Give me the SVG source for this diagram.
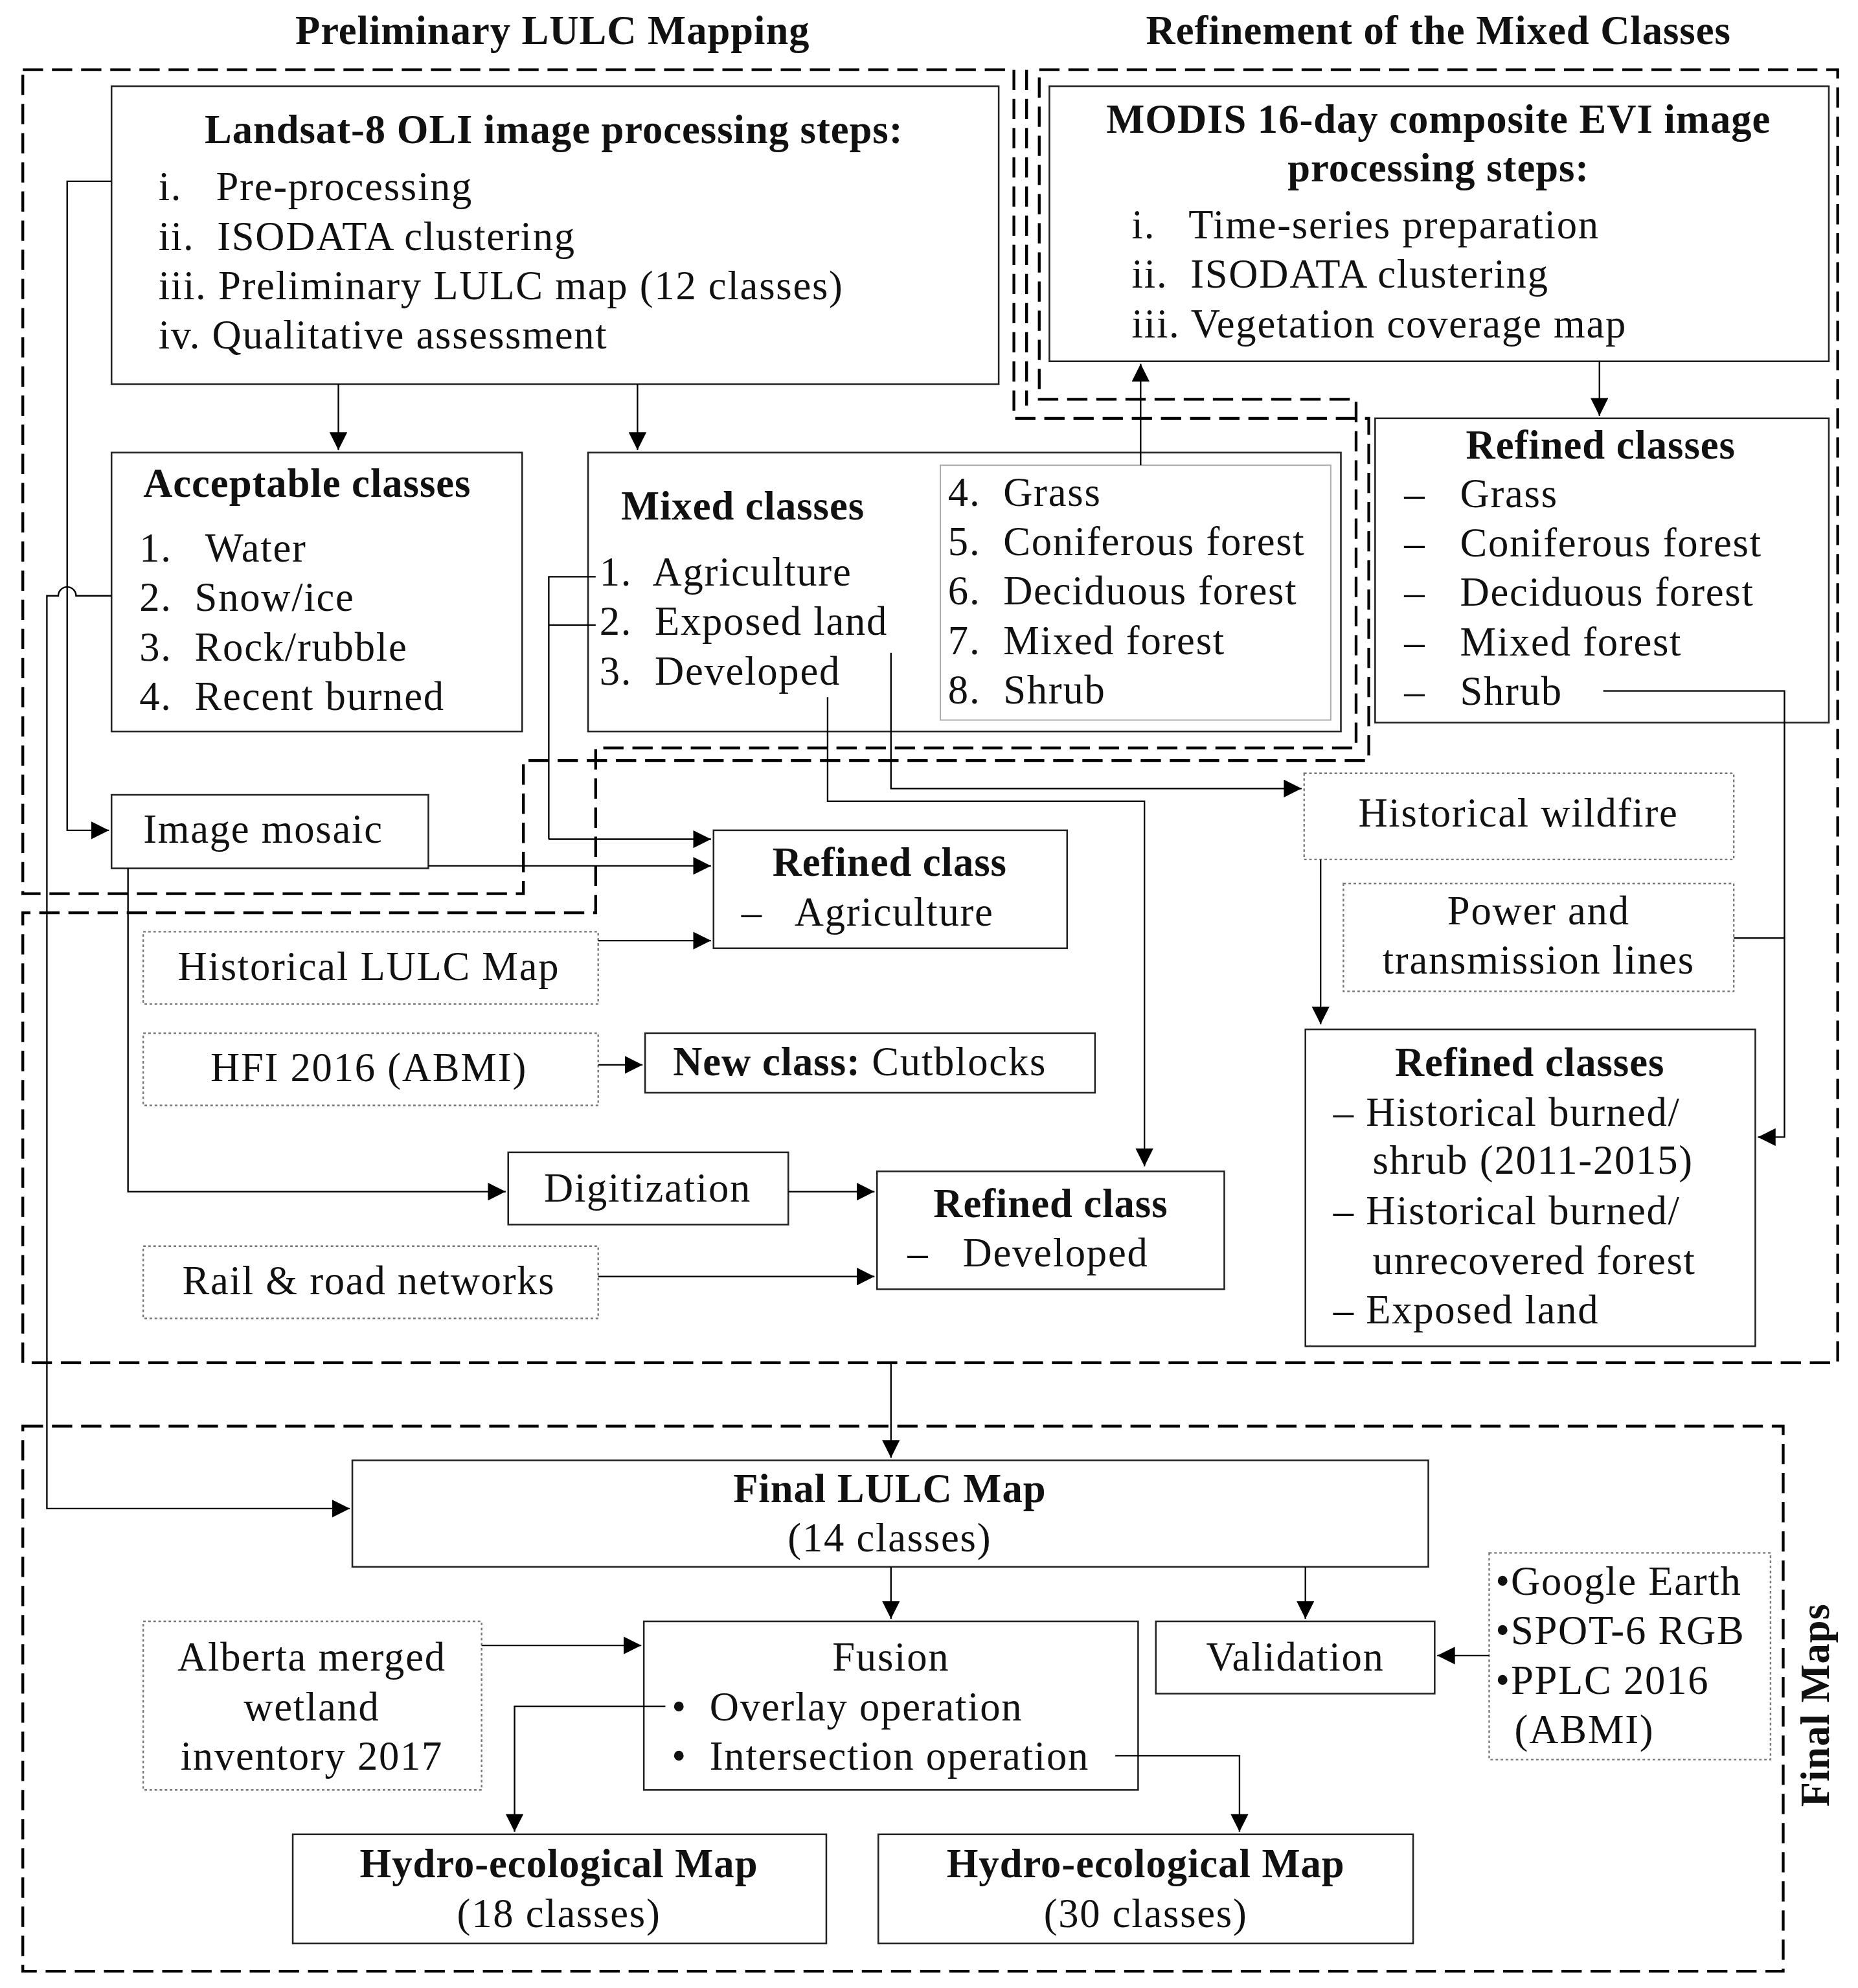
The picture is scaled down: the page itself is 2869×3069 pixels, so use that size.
<svg xmlns="http://www.w3.org/2000/svg" width="2869" height="3069" viewBox="0 0 2869 3069" xml:space="preserve">
<defs>
<marker id="a" viewBox="0 0 10 10" refX="10" refY="5" markerWidth="14" markerHeight="14" markerUnits="userSpaceOnUse" orient="auto"><path d="M0,0L10,5L0,10z" fill="#000"/></marker>
<style>
text{font-family:"Liberation Serif",serif;font-size:32px;letter-spacing:0.9px;fill:#111;white-space:pre}
.b{font-weight:bold;letter-spacing:0.5px}
.c{text-anchor:middle}
.n{fill:#fff;stroke:#222;stroke-width:1.3}
.d{fill:#fff;stroke:#777;stroke-width:1.2;stroke-dasharray:2 2}
.g{fill:none;stroke:#000;stroke-width:2.2;stroke-dasharray:16 7}
.l{fill:none;stroke:#000;stroke-width:1.2}
.l2{fill:none;stroke:#000;stroke-width:1.2;marker-end:url(#a)}
</style>
</defs>
<rect width="2869" height="3069" fill="#fff"/>
<g transform="scale(1.957)">
<g id="regions">
<path class="g" d="M18,55H800V330H1080V600H413V705H18Z"/>
<path class="g" d="M820,55H1450V1075H18V720H470V590H1070V315H820Z"/>
<path class="g" d="M810,55V320"/>
<rect class="g" x="18" y="1125" width="1389" height="430"/>
<text class="b c" x="436" y="35">Preliminary LULC Mapping</text>
<text class="b c" x="1135" y="35">Refinement of the Mixed Classes</text>
<text class="b c" transform="translate(1443,1345) rotate(-90)">Final Maps</text>
</g>
<g id="landsat"><rect class="n" x="88" y="68" width="700" height="235"/>
<text class="b c" x="437" y="113">Landsat-8 OLI image processing steps:</text>
<text x="125" y="158">i.   Pre-processing</text><text x="125" y="197">ii.  ISODATA clustering</text>
<text x="125" y="236">iii. Preliminary LULC map (12 classes)</text><text x="125" y="275">iv. Qualitative assessment</text></g>
<g id="modis"><rect class="n" x="828" y="68" width="615" height="217"/>
<text class="b c" x="1135" y="105">MODIS 16-day composite EVI image</text><text class="b c" x="1135" y="143">processing steps:</text>
<text x="893" y="188">i.   Time-series preparation</text><text x="893" y="227">ii.  ISODATA clustering</text><text x="893" y="266">iii. Vegetation coverage map</text></g>
<g id="acceptable"><rect class="n" x="88" y="357" width="324" height="220"/>
<text class="b" x="113" y="392">Acceptable classes</text>
<text x="110" y="443">1.   Water</text><text x="110" y="482">2.  Snow/ice</text><text x="110" y="521">3.  Rock/rubble</text><text x="110" y="560">4.  Recent burned</text></g>
<g id="mixed"><rect class="n" x="464" y="357" width="594" height="220"/>
<rect x="742" y="367" width="308" height="201" fill="none" stroke="#aaa" stroke-width="1"/>
<text class="b" x="490" y="410">Mixed classes</text>
<text x="473" y="462">1.  Agriculture</text><text x="473" y="501">2.  Exposed land</text><text x="473" y="540">3.  Developed</text>
<text x="748" y="399">4.  Grass</text><text x="748" y="438">5.  Coniferous forest</text><text x="748" y="477">6.  Deciduous forest</text><text x="748" y="516">7.  Mixed forest</text><text x="748" y="555">8.  Shrub</text></g>
<g id="refined1"><rect class="n" x="1085" y="330" width="358" height="240"/>
<text class="b c" x="1263" y="362">Refined classes</text>
<text x="1108" y="400">–</text><text x="1152" y="400">Grass</text><text x="1108" y="439">–</text><text x="1152" y="439">Coniferous forest</text>
<text x="1108" y="478">–</text><text x="1152" y="478">Deciduous forest</text><text x="1108" y="517">–</text><text x="1152" y="517">Mixed forest</text>
<text x="1108" y="556">–</text><text x="1152" y="556">Shrub</text></g>
<g id="mosaic"><rect class="n" x="88" y="627" width="250" height="58"/><text x="113" y="665">Image mosaic</text></g>
<g id="agri"><rect class="n" x="563" y="655" width="279" height="93"/><text class="b c" x="702" y="691">Refined class</text><text x="585" y="730">–   Agriculture</text></g>
<g id="wildfire"><rect class="d" x="1029" y="610" width="339" height="68"/><text class="c" x="1198" y="652">Historical wildfire</text></g>
<g id="power"><rect class="d" x="1060" y="697" width="308" height="85"/><text class="c" x="1214" y="729">Power and</text><text class="c" x="1214" y="768">transmission lines</text></g>
<g id="histlulc"><rect class="d" x="113" y="735" width="359" height="57"/><text class="c" x="291" y="773">Historical LULC Map</text></g>
<g id="hfi"><rect class="d" x="113" y="815" width="359" height="57"/><text class="c" x="291" y="853">HFI 2016 (ABMI)</text></g>
<g id="cutblocks"><rect class="n" x="509" y="815" width="355" height="47"/><text x="531" y="848"><tspan class="b">New class:</tspan> Cutblocks</text></g>
<g id="refined2"><rect class="n" x="1030" y="812" width="355" height="250"/>
<text class="b c" x="1207" y="849">Refined classes</text>
<text x="1052" y="888">– Historical burned/</text><text x="1083" y="926">shrub (2011-2015)</text>
<text x="1052" y="966">– Historical burned/</text><text x="1083" y="1005">unrecovered forest</text><text x="1052" y="1044">– Exposed land</text></g>
<g id="digit"><rect class="n" x="401" y="909" width="221" height="57"/><text class="c" x="511" y="948">Digitization</text></g>
<g id="developed"><rect class="n" x="692" y="924" width="274" height="93"/><text class="b c" x="829" y="960">Refined class</text><text x="716" y="999">–   Developed</text></g>
<g id="rail"><rect class="d" x="113" y="983" width="359" height="57"/><text class="c" x="291" y="1021">Rail &amp; road networks</text></g>
<g id="final"><rect class="n" x="278" y="1152" width="849" height="84"/><text class="b c" x="702" y="1185">Final LULC Map</text><text class="c" x="702" y="1224">(14 classes)</text></g>
<g id="alberta"><rect class="d" x="113" y="1279" width="267" height="133"/><text class="c" x="246" y="1318">Alberta merged</text><text class="c" x="246" y="1357">wetland</text><text class="c" x="246" y="1396">inventory 2017</text></g>
<g id="fusion"><rect class="n" x="508" y="1279" width="390" height="133"/><text class="c" x="703" y="1318">Fusion</text><text x="530" y="1357">•  Overlay operation</text><text x="530" y="1396">•  Intersection operation</text></g>
<g id="validation"><rect class="n" x="912" y="1279" width="220" height="57"/><text class="c" x="1022" y="1318">Validation</text></g>
<g id="refs"><rect class="d" x="1175" y="1225" width="222" height="163"/><text x="1180" y="1258">•Google Earth</text><text x="1180" y="1297">•SPOT-6 RGB</text><text x="1180" y="1336">•PPLC 2016</text><text x="1195" y="1375">(ABMI)</text></g>
<g id="hydro18"><rect class="n" x="231" y="1447" width="421" height="86"/><text class="b c" x="441" y="1481">Hydro-ecological Map</text><text class="c" x="441" y="1520">(18 classes)</text></g>
<g id="hydro30"><rect class="n" x="693" y="1447" width="422" height="86"/><text class="b c" x="904" y="1481">Hydro-ecological Map</text><text class="c" x="904" y="1520">(30 classes)</text></g>
<g id="connectors">
<path class="l2" d="M267,303V355"/>
<path class="l2" d="M503,303V355"/>
<path class="l2" d="M900,367V287"/>
<path class="l2" d="M1262,285V328"/>
<path class="l2" d="M88,143H53V655H86"/>
<path class="l2" d="M88,470H60A7,7 0 0 0 46,470H37V1190H276"/>
<path class="l" d="M470,455H433V662M470,493H433"/>
<path class="l2" d="M433,662H561"/>
<path class="l2" d="M338,683H561"/>
<path class="l2" d="M472,742H561"/>
<path class="l2" d="M101,685V940H399"/>
<path class="l2" d="M472,840H507"/>
<path class="l2" d="M622,940H690"/>
<path class="l2" d="M472,1007H690"/>
<path class="l2" d="M653,550V632H903V920"/>
<path class="l2" d="M703,515V622H1027"/>
<path class="l2" d="M1042,678V808"/>
<path class="l2" d="M1265,545H1408V897H1387"/>
<path class="l" d="M1368,740H1408"/>
<path class="l2" d="M703,1075V1150"/>
<path class="l2" d="M703,1236V1277"/>
<path class="l2" d="M1030,1236V1277"/>
<path class="l2" d="M380,1298H506"/>
<path class="l2" d="M1175,1306H1134"/>
<path class="l2" d="M525,1346H406V1445"/>
<path class="l2" d="M880,1385H978V1445"/>
</g>
</g>
</svg>
